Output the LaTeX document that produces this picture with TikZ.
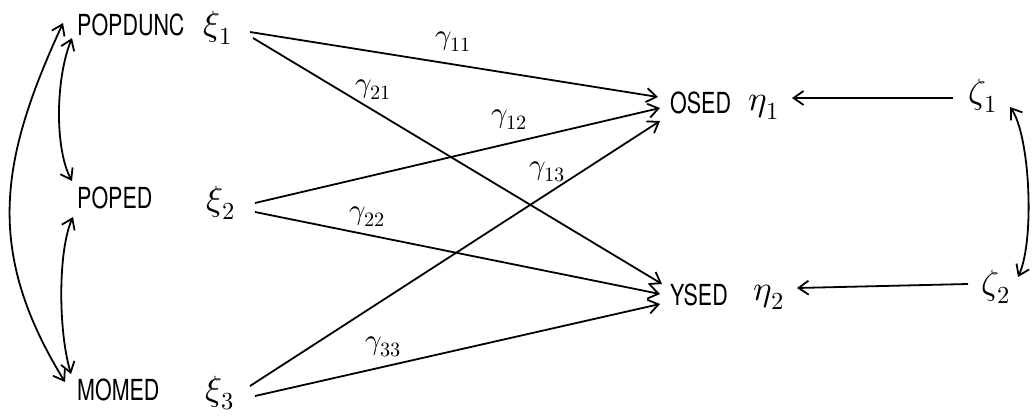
\documentclass[tikz,border=0pt]{standalone}
\usepackage{fontspec}
\usepackage{unicode-math}
\setmathfont{Latin Modern Math}
\newfontfamily\labfont[FakeStretch=0.74]{TeX Gyre Heros}
\usetikzlibrary{arrows.meta,calc}

\begin{document}
\begin{tikzpicture}[x=1pt,y=-1pt,
  var/.style={inner sep=0pt, anchor=west, font=\labfont\fontsize{29}{31}\selectfont},
  lat/.style={inner sep=0pt, font=\fontsize{35}{37}\selectfont},
  coef/.style={inner sep=0pt, font=\fontsize{29}{31}\selectfont},
  tip/.tip={Straight Barb[length=10pt,width=14pt]},
  link/.style={line width=1.8pt, -tip},
  both/.style={line width=1.8pt, tip-tip}]

\useasboundingbox (0,0) rectangle (1034,416);

% observed variables
\node[var] (popdunc) at (77,25)  {POPDUNC};
\node[var] (poped)   at (77,198) {POPED};
\node[var] (momed)   at (77,390) {MOMED};
\node[var] (osed)    at (670,103) {OSED};
\node[var] (ysed)    at (670,295) {YSED};

% latent symbols
\node[lat] (xi1)   at (218,28)  {$\xi_1$};
\node[lat] (xi2)   at (221,203) {$\xi_2$};
\node[lat] (xi3)   at (220,393) {$\xi_3$};
\node[lat] (eta1)  at (764,107) {$\eta_1$};
\node[lat] (eta2)  at (769,297) {$\eta_2$};
\node[lat] (zeta1) at (983,96)  {$\zeta_1$};
\node[lat] (zeta2) at (996,287) {$\zeta_2$};

% path coefficients
\node[coef] (g11) at (453,42)  {$\gamma_{11}$};
\node[coef] (g21) at (373,90)  {$\gamma_{21}$};
\node[coef] (g12) at (509,120) {$\gamma_{12}$};
\node[coef] (g13) at (547,172) {$\gamma_{13}$};
\node[coef] (g22) at (367,217) {$\gamma_{22}$};
\node[coef] (g33) at (383,347) {$\gamma_{33}$};

% structural paths
\draw[link] ($(xi1)+(32,4)$)  -- ($(osed.west)+(-12,-6)$);
\draw[link] ($(xi1)+(35,10)$) -- ($(ysed.west)+(-8,-11)$);
\draw[link] ($(xi2)+(34,0)$)  -- ($(osed.west)+(-10,5)$);
\draw[link] ($(xi2)+(34,9)$)  -- ($(ysed.west)+(-10,-1)$);
\draw[link] ($(xi3)+(30,-7)$) -- ($(osed.west)+(-10,18)$);
\draw[link] ($(xi3)+(35,3)$)  -- ($(ysed.west)+(-10,9)$);

% disturbances
\draw[link] ($(zeta1)+(-30,2)$)  -- ($(eta1)+(28,-9)$);
\draw[link] ($(zeta2)+(-28,-3)$) -- ($(eta2)+(28,-9)$);

% correlations
\draw[both] ($(popdunc.west)+(-14,-2)$) .. controls (0,160) and (-16,250) .. ($(momed.west)+(-12,-8)$);
\draw[both] ($(popdunc.west)+(-5,13)$) .. controls (55,80) and (55,150) .. ($(poped.west)+(-5,-17)$);
\draw[both] ($(poped.west)+(-4,19)$) .. controls (58,250) and (58,330) .. ($(momed.west)+(-6,-16)$);
\draw[both] ($(zeta1)+(27,11)$) .. controls (1030,135) and (1035,240) .. ($(zeta2)+(22,-10)$);

\end{tikzpicture}
\end{document}
